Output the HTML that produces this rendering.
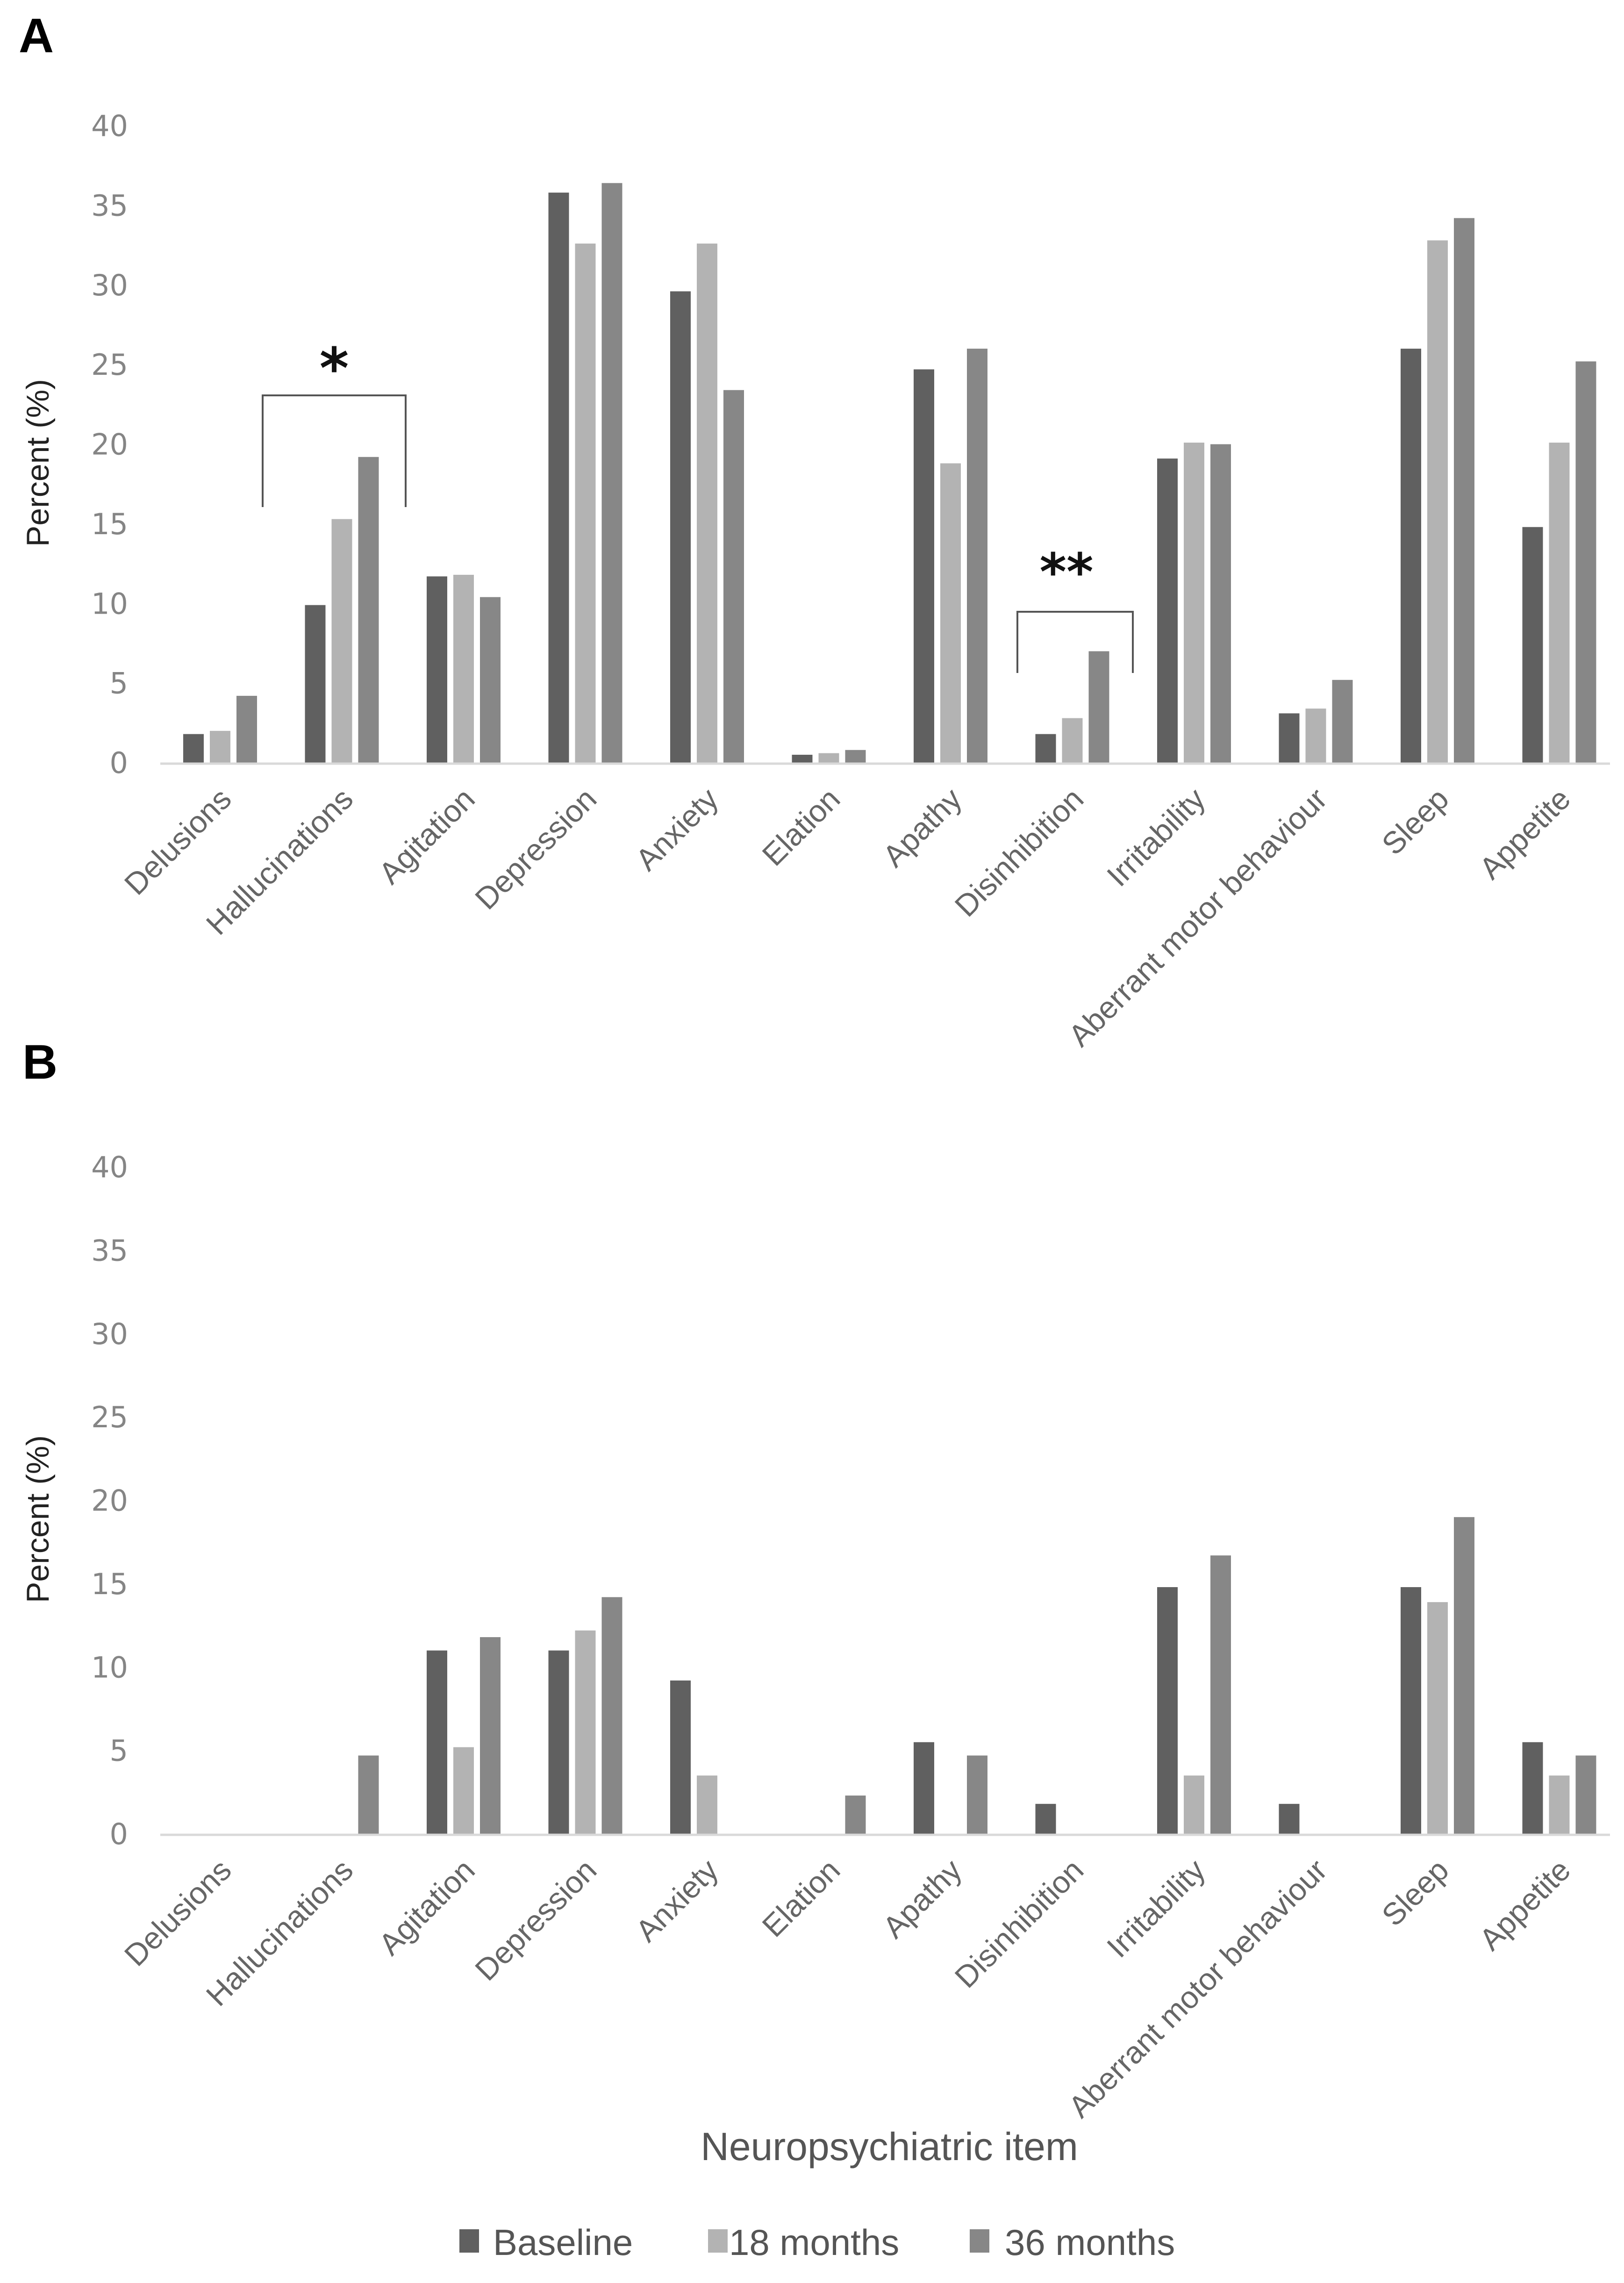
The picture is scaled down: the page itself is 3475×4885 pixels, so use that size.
<!DOCTYPE html>
<html><head><meta charset="utf-8"><style>
html,body{margin:0;padding:0;background:#fff;}
svg{display:block;}
</style></head><body>
<svg id="chart" width="3475" height="4885" viewBox="0 0 3475 4885" xmlns="http://www.w3.org/2000/svg">
<text x="40" y="112" font-family="Liberation Sans, sans-serif" font-weight="bold" font-size="104" fill="#000">A</text>
<text x="48" y="2308" font-family="Liberation Sans, sans-serif" font-weight="bold" font-size="104" fill="#000">B</text>
<g id="panelA"></g>
<g id="panelB"></g>
<text x="1903" y="4622" text-anchor="middle" font-family="Liberation Sans, sans-serif" font-size="84" fill="#555">Neuropsychiatric item</text>
<g>
<rect x="983" y="4770" width="42" height="50" fill="#606060"/>
<text x="1055" y="4825" font-family="Liberation Sans, sans-serif" font-size="78" fill="#555">Baseline</text>
<rect x="1515" y="4770" width="42" height="50" fill="#b3b3b3"/>
<text x="1560" y="4825" font-family="Liberation Sans, sans-serif" font-size="78" fill="#555">18 months</text>
<rect x="2075" y="4770" width="42" height="50" fill="#878787"/>
<text x="2150" y="4825" font-family="Liberation Sans, sans-serif" font-size="78" fill="#555">36 months</text>
</g>
</svg>
<script>
const categories = ["Delusions","Hallucinations","Agitation","Depression","Anxiety","Elation","Apathy","Disinhibition","Irritability","Aberrant motor behaviour","Sleep","Appetite"];
const seriesNames = ["Baseline","18 months","36 months"];
const tickLabels = [0,5,10,15,20,25,30,35,40];
const aBaseline = [1.8,9.9,11.7,35.8,29.6,0.5,24.7,1.8,19.1,3.1,26.0,14.8];
const a18 = [2.0,15.3,11.8,32.6,32.6,0.6,18.8,2.8,20.1,3.4,32.8,20.1];
const a36 = [4.2,19.2,10.4,36.4,23.4,0.8,26.0,7.0,20.0,5.2,34.2,25.2];
const bBaseline = [0,0,11.0,11.0,9.2,0,5.5,1.8,14.8,1.8,14.8,5.5];
const b18 = [0,0,5.2,12.2,3.5,0,0,0,3.5,0,13.9,3.5];
const b36 = [0,4.7,11.8,14.2,0,2.3,4.7,0,16.7,0,19.0,4.7];

const NS = "http://www.w3.org/2000/svg";
const colors = ["#606060","#b3b3b3","#878787"];
const X0 = 392, STEP = 260.5, BAR = 44, OFF = 57;
function xBar(i, s){ return X0 + i*STEP + s*OFF; }
function mk(tag, attrs, parent){ const e=document.createElementNS(NS,tag); for(const k in attrs) e.setAttribute(k, attrs[k]); parent.appendChild(e); return e; }

function drawPanel(g, yZero, yTop, series, key){
  const yMax = tickLabels[tickLabels.length-1];
  const yScale = v => yZero - v*(yZero-yTop)/yMax;
  tickLabels.forEach(t => {
    const tx = mk('text',{x:274,y:yScale(t)+22,'text-anchor':'end','font-family':'DejaVu Sans, sans-serif','font-size':62,fill:'#858585'},g);
    
    
    tx.textContent = t;
  });
  const yt = mk('text',{x:0,y:0,transform:`translate(104,${(yZero+yTop)/2+40}) rotate(-90)`,'text-anchor':'middle','font-family':'Liberation Sans, sans-serif','font-size':68,fill:'#222'},g);
  
  
  yt.textContent = 'Percent (%)';
  series.forEach((arr, s) => {
    arr.forEach((v, i) => {
      if (v <= 0) return;
      const r = mk('rect',{x:xBar(i,s),y:yScale(v),width:BAR,height:yZero-yScale(v),fill:colors[s]},g);
      
      
    });
  });
  const ax = mk('line',{x1:343,x2:3445,y1:yZero+2,y2:yZero+2,stroke:'#d9d9d9','stroke-width':5},g);
  
  
  categories.forEach((c, i) => {
    const cx = xBar(i,1) + BAR/2 + 28, cy = yZero + 82;
    const t = mk('text',{x:cx,y:cy,transform:`rotate(-45 ${cx} ${cy})`,'text-anchor':'end','font-family':'Liberation Sans, sans-serif','font-size':66,fill:'#666'},g);
    
    
    t.textContent = c;
  });
  return yScale;
}
const gA = document.getElementById('panelA');
const gB = document.getElementById('panelB');
drawPanel(gA, 1632, 269, [aBaseline,a18,a36], 'a');
drawPanel(gB, 3924, 2497, [bBaseline,b18,b36], 'b');

const br1 = mk('path',{d:'M562 1085 V846 H868 V1085',fill:'none',stroke:'#555','stroke-width':4},gA);


const s1 = mk('text',{x:715,y:830,'text-anchor':'middle','font-family':'DejaVu Sans, sans-serif','font-weight':'bold','font-size':120,fill:'#111'},gA);


s1.textContent = '*';
const br2 = mk('path',{d:'M2177 1440 V1309 H2424 V1440',fill:'none',stroke:'#555','stroke-width':4},gA);


const s2 = mk('text',{x:2282,y:1262,'text-anchor':'middle','font-family':'DejaVu Sans, sans-serif','font-weight':'bold','font-size':110,fill:'#111'},gA);


s2.textContent = '**';
</script>
</body></html>
